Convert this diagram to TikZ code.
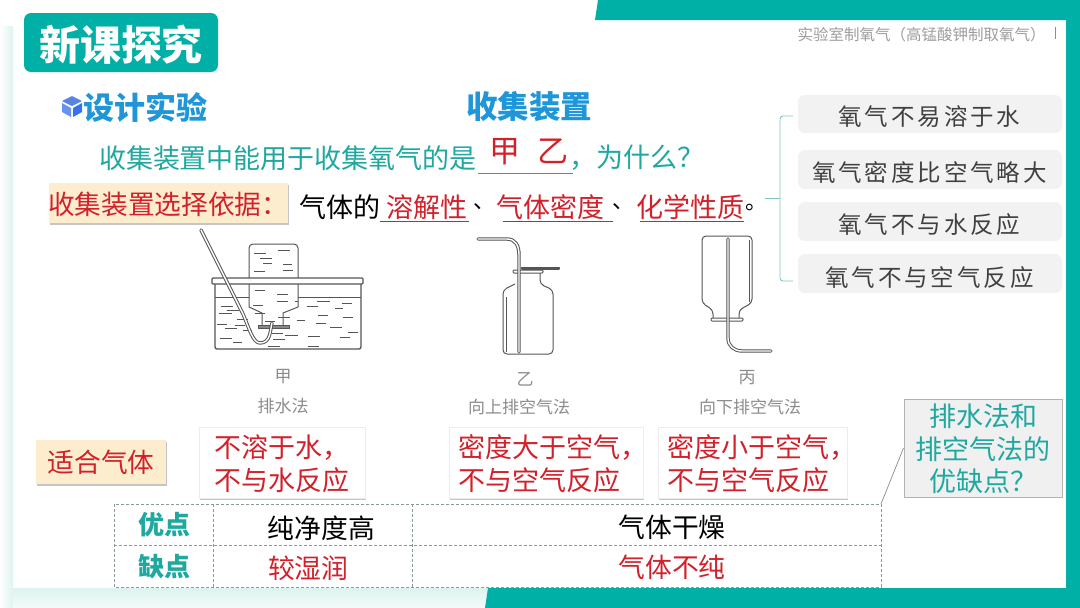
\documentclass[tikz,border=0pt]{standalone}
\usepackage{fontspec}
\setmainfont{Noto Sans CJK SC}
\usetikzlibrary{shadows,calc}
\definecolor{teal1}{HTML}{00AFA6}
\definecolor{tealtxt}{HTML}{1FA8A0}
\definecolor{paleteal}{HTML}{DDF3EF}
\definecolor{redtxt}{HTML}{D3212B}
\definecolor{bluetxt}{HTML}{1E96D8}
\definecolor{graytxt}{HTML}{8C8C8C}
\definecolor{inkline}{HTML}{555555}
\definecolor{peach}{HTML}{FCEDCE}
\definecolor{dashgray}{HTML}{8A9A98}
\definecolor{underblue}{HTML}{1FA3C4}
\definecolor{bracecol}{HTML}{7CC8C0}
\tikzset{
  x=1pt,y=-1pt,
  softshadow/.style={drop shadow={shadow xshift=.7pt,shadow yshift=-1.8pt,fill=black!50,opacity=.45}},
  txt/.style={inner sep=0pt,outer sep=0pt,align=center},
  redbox/.style={fill=white,draw=black!7,line width=.8pt,softshadow,inner sep=0pt,outer sep=0pt},
  redtext/.style={txt,anchor=north west,align=left,text=redtxt,font=\fontsize{27}{33}\selectfont},
  peachbox/.style={fill=peach,softshadow,inner sep=0pt,outer sep=0pt},
  peachtext/.style={txt,text=redtxt,font=\fontsize{26.7}{30}\selectfont},
  graybar/.style={fill=black!5,rounded corners=7pt,draw=none,inner sep=0pt},
  brushtxt/.style={txt,text=black!75,font=\fontsize{23.5}{26}\selectfont},
  captxt/.style={txt,text=graytxt,font=\fontsize{17}{19}\selectfont},
  glass/.style={draw=inkline,line width=1pt,line join=round},
  tube/.style={draw=inkline,line width=3.4pt,line cap=round,line join=round,postaction={draw=white,line width=1.4pt}},
  water/.style={draw=inkline,line width=.8pt},
  grid/.style={draw=dashgray,line width=.6pt,densely dashed},
  rowhead/.style={txt,text=tealtxt,font=\bfseries\fontsize{26}{28}\selectfont},
  rowtext/.style={txt,font=\fontsize{26.8}{28}\selectfont},
  bodytxt/.style={txt,font=\fontsize{27}{30}\selectfont},
  punct/.style={txt,anchor=west,font=\fontsize{22}{30}\selectfont},
  underl/.style={draw=redtxt,line width=1pt}
}
\begin{document}
\begin{tikzpicture}
\useasboundingbox (0,0) rectangle (1080,608);
\fill[white] (0,0) rectangle (1080,608);
% pale bands
\shade[left color=white,right color=paleteal] (0,26) rectangle (13,608);
\shade[top color=paleteal,bottom color=paleteal!35] (13,588) rectangle (489,608);
% frame
\fill[teal1] (598,0) -- (1080,0) -- (1080,608) -- (485,608) -- (488,588) -- (1066,588) -- (1066,20) -- (595,20) -- cycle;
% title
\node[fill=teal1,rounded corners=7pt,minimum width=194pt,minimum height=59pt,inner sep=0pt] (title) at (121,42.5) {};
\node[txt,text=white,font=\bfseries\fontsize{41}{42}\selectfont] (titletxt) at (121,45) {新课探究};
% cube icon
\fill[black!10!bluetxt!60!blue!70!white] (72,96) -- (82,101) -- (72,106) -- (62,101) -- cycle;
\fill[bluetxt!60!blue!65!white] (62,103) -- (71,108) -- (71,117) -- (62,112) -- cycle;
\fill[bluetxt!60!blue!85!white] (73,108) -- (82,103) -- (82,112) -- (73,117) -- cycle;
\node[txt,anchor=west,text=bluetxt,font=\bfseries\fontsize{31}{32}\selectfont] (design) at (83,108) {设计实验};
\node[txt,text=bluetxt,font=\bfseries\fontsize{31.5}{33}\selectfont] (collect) at (529,107) {收集装置};
% question line
\node[bodytxt,anchor=west,text=tealtxt] (q1) at (99,158) {收集装置中能用于收集氧气的是};
\node[txt,text=redtxt,font=\fontsize{31}{32}\selectfont] (ans) at (529,152) {甲\hspace{.55em}乙};
\node[bodytxt,anchor=west,text=tealtxt] (q2) at (569,158) {，为什么？};
\coordinate (a1) at (478,173); \coordinate (a2) at (573,173);
\draw[draw=underblue,line width=.9pt] (a1) -- (a2);
% basis row
\node[peachbox,minimum width=239pt,minimum height=40pt] (basis) at (168.5,203) {};
\node[peachtext,anchor=west] (basistxt) at (48,204) {收集装置选择依据：};
\node[bodytxt,anchor=west] (g1) at (299,207) {气体的};
\node[bodytxt,text=redtxt] (g2) at (427,207) {溶解性};
\node[punct] (g3) at (473,207) {、};
\node[bodytxt,text=redtxt] (g4) at (550,207) {气体密度};
\node[punct] (g5) at (612,207) {、};
\node[bodytxt,text=redtxt] (g6) at (690,207) {化学性质};
\node[punct] (g7) at (745,207) {。};
\coordinate (u1a) at (380,221.5); \coordinate (u1b) at (469,221.5);
\coordinate (u2a) at (503,221.5); \coordinate (u2b) at (613,221.5);
\coordinate (u3a) at (640,221.5); \coordinate (u3b) at (744,221.5);
\draw[underl] (u1a)--(u1b); \draw[underl] (u2a)--(u2b); \draw[underl] (u3a)--(u3b);
% right bars
\node[graybar,minimum width=264pt,minimum height=38pt] (b1) at (930,114) {};
\node[graybar,minimum width=264pt,minimum height=39pt] (b2) at (930,169.5) {};
\node[graybar,minimum width=264pt,minimum height=39pt] (b3) at (930,221.5) {};
\node[graybar,minimum width=264pt,minimum height=39pt] (b4) at (930,273.5) {};
\node[brushtxt] (t1) at (929.5,117) {氧\hspace{.123em}气\hspace{.123em}不\hspace{.123em}易\hspace{.123em}溶\hspace{.123em}于\hspace{.123em}水};
\node[brushtxt] (t2) at (929.5,172) {氧\hspace{.123em}气\hspace{.123em}密\hspace{.123em}度\hspace{.123em}比\hspace{.123em}空\hspace{.123em}气\hspace{.123em}略\hspace{.123em}大};
\node[brushtxt] (t3) at (929.5,225) {氧\hspace{.123em}气\hspace{.123em}不\hspace{.123em}与\hspace{.123em}水\hspace{.123em}反\hspace{.123em}应};
\node[brushtxt] (t4) at (929.5,278) {氧\hspace{.123em}气\hspace{.123em}不\hspace{.123em}与\hspace{.123em}空\hspace{.123em}气\hspace{.123em}反\hspace{.123em}应};
% brace
\draw[draw=bracecol,line width=.9pt,rounded corners=3pt] (793,116) -- (780,116) -- (780,281) -- (793,281);
\draw[draw=bracecol,line width=.9pt] (765,198) -- (780,198);
% header
\node[txt,text=graytxt!85,font=\fontsize{15.5}{17}\selectfont] (hdr) at (921.5,35) {实验室制氧气（高锰酸钾制取氧气）};
\draw[draw=graytxt,line width=.7pt] (1055,27) -- (1055,39);
% apparatus jia
\draw[glass,line width=1.4pt,rounded corners=2pt] (215,284) -- (215,349) -- (361,349) -- (361,284);
\draw[glass,line width=.9pt] (215,297) -- (249,297);
\draw[glass,line width=.9pt] (298,297) -- (361,297);
\draw[glass,rounded corners=4pt] (249,278) -- (249,244) -- (298,244) -- (298,278);
\draw[glass,line width=1.4pt,rounded corners=1pt,fill=white] (212,278) rectangle (363,284);
\draw[glass] (249,284) -- (249,307) -- (262,313) -- (262,325);
\draw[glass] (298,284) -- (298,307) -- (283,313) -- (283,325);
\foreach \a/\b/\c in {222/258/100,240/275/115,250/275/130,222/255/155,293/330/92,308/335/133,310/338/152,
  225/255/212,292/325/222,290/325/245,345/355/245,220/250/255,225/255/280,295/330/292,255/285/305,
  122/158/258,140/178/272,118/155/280,170/205/298,165/195/315,110/140/313,135/172/326,120/155/355,160/185/368,190/215/330,
  410/450/243,380/415/260,465/490/265,485/515/250,415/445/285,488/520/293,350/375/302,408/438/310,450/485/322,315/355/345,385/420/348,505/535/338,480/510/353,385/418/380,275/310/340,280/315/358,265/300/378}{
  \draw[water] ({180+\a/3},{220+\c/3}) -- ({180+\b/3},{220+\c/3});}
\draw[glass,fill=inkline!70] (258,325) rectangle (289,328);
\draw[tube] (201,230) -- (243,314) .. controls (249,328) and (253,343) .. (260,343) .. controls (271,343) and (270,330) .. (272,323);
\node[captxt] (c1a) at (283,376.5) {甲};
\node[captxt] (c1b) at (283,406.5) {排水法};
% apparatus yi
\draw[glass,rounded corners=4pt] (515,284) -- (503,290) -- (503,354) -- (553,354) -- (553,290) -- (540,284) -- (540,273);
\draw[glass] (506,297) -- (506,352);
\draw[glass,line width=1pt,fill=white,rounded corners=1pt] (513,270) rectangle (543,273);
\draw[glass,line width=1.2pt,fill=inkline] (522,267.5) rectangle (559,269);
\draw[tube] (478,239) -- (507,239) .. controls (515,239) and (519,245) .. (519,255) -- (519,352);
\node[captxt] (c2a) at (525,379) {乙};
\node[captxt] (c2b) at (519,407) {向上排空气法};
% apparatus bing
\draw[glass,rounded corners=4pt] (713,318) -- (713,310) -- (702,303) -- (702,236) -- (752,236) -- (752,303) -- (739,310) -- (739,318);
\draw[glass] (749,240) -- (749,302);
\draw[glass,line width=1pt,fill=white,rounded corners=1pt] (711,318) rectangle (743,321);
\draw[tube] (728,239) -- (728,338) .. controls (728,346) and (734,351) .. (742,351) -- (771,351);
\node[captxt] (c3a) at (747,378) {丙};
\node[captxt] (c3b) at (750,407) {向下排空气法};
% suitable row
\node[peachbox,minimum width=130pt,minimum height=44pt] (fit) at (101,462) {};
\node[peachtext] (fittxt) at (101,462) {适合气体};
\node[redbox,minimum width=166pt,minimum height=71pt] (r1) at (282,462.5) {};
\node[redbox,minimum width=194pt,minimum height=71pt] (r2) at (546,462.5) {};
\node[redbox,minimum width=189pt,minimum height=71pt] (r3) at (752.5,462.5) {};
\node[redtext] (r1t) at (214,434.5) {不溶于水，\\不与水反应};
\node[redtext] (r2t) at (458,434.5) {密度大于空气，\\不与空气反应};
\node[redtext] (r3t) at (667,434.5) {密度小于空气，\\不与空气反应};
% table
\draw[grid] (114,504) rectangle (881,587);
\draw[grid] (114,545) -- (881,545);
\draw[grid] (213,504) -- (213,587);
\draw[grid] (412,504) -- (412,587);
\node[rowhead] (h1) at (164,525) {优点};
\node[rowhead] (h2) at (164,567) {缺点};
\node[rowtext] (c11) at (321.5,528) {纯净度高};
\node[rowtext,text=redtxt,anchor=west] (c21) at (268,568) {较湿润};
\node[rowtext] (c12) at (672,527) {气体干燥};
\node[rowtext,text=redtxt] (c22) at (672,567) {气体不纯};
% callout
\node[draw=black!30,line width=1pt,fill=black!6,minimum width=158pt,minimum height=98pt,inner sep=0pt] (call) at (983,448) {};
\node[txt,text=tealtxt,font=\fontsize{27}{32.5}\selectfont] (calltxt) at (983,449) {排水法和\\排空气法的\\优缺点？};
\coordinate (ct) at (881,504);
\draw[draw=black!45,line width=.7pt] (ct) -- (call.west);
\end{tikzpicture}
\end{document}
